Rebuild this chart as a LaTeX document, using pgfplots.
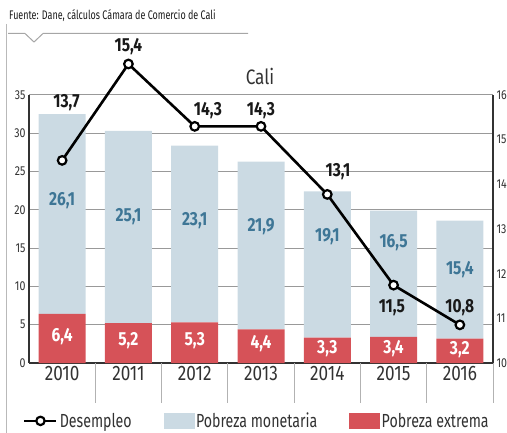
\documentclass[border=0pt]{standalone}
\usepackage{fontspec}
\setmainfont{Fira Sans}[FakeStretch=0.82]
\newfontfamily\srcfont{Fira Sans}[FakeStretch=0.72]
\newfontfamily\legfont{Fira Sans}[FakeStretch=0.75]
\usepackage{pgfplots}
\usepackage{pgfplotstable}
\pgfplotsset{compat=1.18}
\definecolor{barblue}{RGB}{203,218,227}
\definecolor{barred}{RGB}{214,82,88}
\definecolor{lblblue}{RGB}{62,118,150}
\definecolor{axgray}{RGB}{50,50,50}
\tikzset{dotline/.style={black!40, line width=1bp}}

\pgfplotstableread{
x mon ext
0 26.1 6.4
1 25.1 5.2
2 23.1 5.3
3 21.9 4.4
4 19.1 3.3
5 16.5 3.4
6 15.4 3.2
}\pobreza
\pgfplotstableread{
x des
0 13.7
1 15.4
2 14.3
3 14.3
4 13.1
5 11.5
6 10.8
}\desempleo

\begin{document}
\begin{tikzpicture}[x=1bp,y=1bp]
\useasboundingbox (0,0) rectangle (507,-433);
\draw[gray!55, line width=1bp] (6,-24) -- (6,-433);
\draw[dotline, black!35] (8,-33.5) -- (25,-33.5) -- (34,-42) -- (43,-33.5) -- (248,-33.5);
\node[anchor=west, inner sep=0pt, font=\srcfont\fontsize{12.5}{12.5}\selectfont, text=black!90] at (9,-16) {Fuente: Dane, cálculos Cámara de Comercio de Cali};
\node[font=\fontsize{21}{21}\selectfont, text=axgray] at (260,-76) {Cali};

% background grid (drawn first, behind the bars)
\begin{axis}[at={(29bp,-363bp)}, anchor=south west, scale only axis,
  width=464bp, height=268bp,
  xmin=-0.5, xmax=6.5, ymin=0, ymax=35, hide axis, clip=false]
\addplot[draw=none, forget plot] coordinates {(0,0)};
\pgfplotsinvokeforeach{5,10,...,35}{
  \draw[dotline] (axis cs:-0.5,#1) -- (axis cs:6.5,#1);
}
\end{axis}

% bars + left axis
\begin{axis}[at={(29bp,-363bp)}, anchor=south west, scale only axis,
  width=464bp, height=268bp,
  xmin=-0.5, xmax=6.5, ymin=0, ymax=35,
  axis x line*=bottom, axis y line*=left,
  axis line style={-, line width=1.6bp, color=axgray},
  ytick={0,5,...,35}, xtick={0,...,6},
  xticklabels={2010,2011,2012,2013,2014,2015,2016},
  major tick length=0pt,
  ybar stacked, bar width=47bp,
  /pgf/number format/assume math mode=true,
  yticklabel style={font=\fontsize{13}{13}\selectfont, text=axgray},
  xticklabel style={font=\fontsize{21}{21}\selectfont, text=axgray},
  clip=false,
]
\addplot[fill=barred, draw=none] table[x=x, y=ext] {\pobreza};
\addplot[fill=barblue, draw=none] table[x=x, y=mon] {\pobreza};
\legend{}
\end{axis}

% right axis
\begin{axis}[at={(29bp,-363bp)}, anchor=south west, scale only axis,
  width=464bp, height=268bp,
  xmin=-0.5, xmax=6.5, ymin=10, ymax=16,
  axis y line*=right, axis x line=none,
  axis line style={-, line width=1.6bp, color=axgray},
  ytick={10,...,16}, major tick length=0pt,
  /pgf/number format/assume math mode=true,
  yticklabel style={font=\fontsize{13}{13}\selectfont, text=axgray, anchor=west},
]
\addplot[draw=none] coordinates {(0,10)};
\end{axis}

% unemployment line + labels + legend
\begin{axis}[at={(29bp,-363bp)}, anchor=south west, scale only axis,
  width=464bp, height=268bp,
  xmin=-0.5, xmax=6.5, ymin=10.127, ymax=14.853,
  hide axis, clip=false,
  legend style={at={(-0.013,-0.216)}, anchor=west, draw=none, fill=none,
    inner sep=0pt, legend columns=-1,
    font=\legfont\fontsize{19}{19}\selectfont, text=axgray,
    /tikz/every even column/.append style={column sep=30bp}},
]
\addplot[black, line width=2.6bp, mark=*, mark size=4.3bp,
  mark options={fill=white, draw=black, line width=2.2bp},
  legend image code/.code={
  \draw[black, line width=2.6bp] (0bp,0bp) -- (32bp,0bp);
  \draw[black, line width=2.2bp, fill=white] (16bp,0bp) circle (4.2bp);}
  ] table[x=x, y=des] {\desempleo};
\addlegendentry{Desempleo}
\addlegendimage{legend image code/.code={
  \fill[barblue] (0bp,-7.5bp) rectangle (30bp,7.5bp);}}
\addlegendentry{Pobreza monetaria}
\addlegendimage{legend image code/.code={
  \fill[barred] (0bp,-7.5bp) rectangle (30bp,7.5bp);}}
\addlegendentry{Pobreza extrema}
\pgfplotsinvokeforeach{0,...,6}{
  \draw[dotline, black!30] (axis cs:#1+0.5,10.127) -- ([yshift=-40bp]axis cs:#1+0.5,10.127);
}
\begin{scope}[every node/.style={font=\bfseries\fontsize{19}{19}\selectfont, text=black!90}]
\node at (axis cs:0.066,14.71) {13,7};
\node at (axis cs:1.0,15.70) {15,4};
\node at (axis cs:2.2,14.57) {14,3};
\node at (axis cs:3.0,14.57) {14,3};
\node at (axis cs:4.16,13.51) {13,1};
\node at (axis cs:4.975,11.10) {11,5};
\node at (axis cs:6.0,11.11) {10,8};
\end{scope}
\end{axis}

% bar value labels (same scale as the left axis)
\begin{axis}[at={(29bp,-363bp)}, anchor=south west, scale only axis,
  width=464bp, height=268bp,
  xmin=-0.5, xmax=6.5, ymin=0, ymax=35, hide axis, clip=false]
\addplot[draw=none, forget plot] coordinates {(0,0)};
\begin{scope}[every node/.style={font=\bfseries\fontsize{19}{19}\selectfont, text=lblblue}]
\node at (axis cs:0,21.15) {26,1};
\node at (axis cs:1,19.06) {25,1};
\node at (axis cs:2,18.54) {23,1};
\node at (axis cs:3,17.75) {21,9};
\node at (axis cs:4,16.45) {19,1};
\node at (axis cs:5,15.67) {16,5};
\node at (axis cs:6,12.14) {15,4};
\end{scope}
\begin{scope}[every node/.style={font=\bfseries\fontsize{19}{19}\selectfont, text=white}]
\node at (axis cs:0,3.5) {6,4};
\node at (axis cs:1,2.9) {5,2};
\node at (axis cs:2,2.95) {5,3};
\node at (axis cs:3,2.5) {4,4};
\node at (axis cs:4,1.85) {3,3};
\node at (axis cs:5,1.9) {3,4};
\node at (axis cs:6,1.8) {3,2};
\end{scope}
\end{axis}
\end{tikzpicture}
\end{document}
